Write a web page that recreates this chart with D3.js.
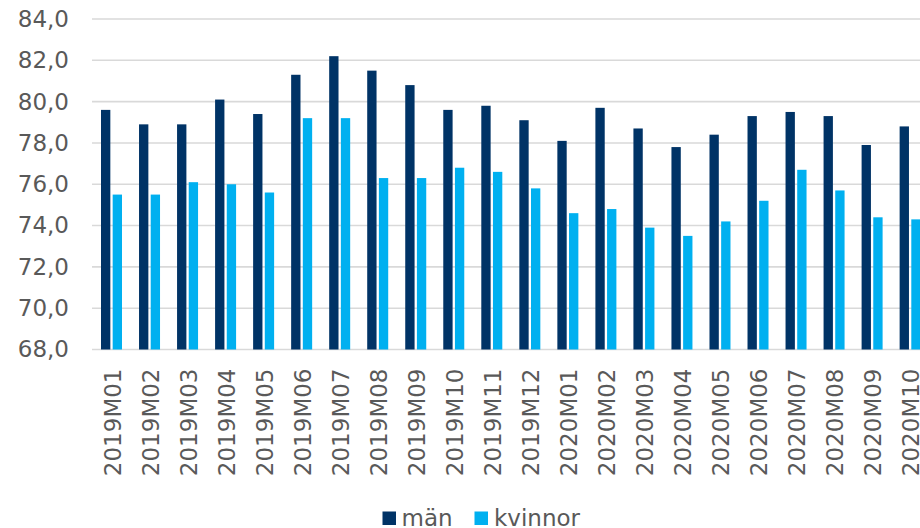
<!DOCTYPE html>
<html>
<head>
<meta charset="utf-8">
<script src="https://cdn.jsdelivr.net/npm/d3@7"></script>
<style>
  html, body { margin: 0; padding: 0; background: #ffffff; }
  svg { display: block; font-family: "DejaVu Sans", Verdana, sans-serif; }
</style>
</head>
<body>
<svg id="chart" width="920" height="528"></svg>
<script>
const categories = ["2019M01","2019M02","2019M03","2019M04","2019M05","2019M06","2019M07","2019M08","2019M09","2019M10","2019M11","2019M12",
                    "2020M01","2020M02","2020M03","2020M04","2020M05","2020M06","2020M07","2020M08","2020M09","2020M10"];
const man     = [79.6,78.9,78.9,80.1,79.4,81.3,82.2,81.5,80.8,79.6,79.8,79.1,78.1,79.7,78.7,77.8,78.4,79.3,79.5,79.3,77.9,78.8];
const kvinnor = [75.5,75.5,76.1,76.0,75.6,79.2,79.2,76.3,76.3,76.8,76.6,75.8,74.6,74.8,73.9,73.5,74.2,75.2,76.7,75.7,74.4,74.3];
const seriesNames = ["män","kvinnor"];
const seriesColors = ["#003366","#00b0f0"];
const yTicks = [68,70,72,74,76,78,80,82,84];

const svg = d3.select("#chart");
const W = 920;
const plotLeft = 92, plotTop = 19, plotBottom = 349.5;
const step = 38.03;

const x0 = d3.scaleBand().domain(categories).range([plotLeft, plotLeft + step * categories.length]).padding(0);
const x1 = d3.scaleBand().domain(seriesNames).range([9, 30]).paddingInner(0.2).paddingOuter(0);
const y = d3.scaleLinear().domain([68, 84]).range([plotBottom, plotTop]);

const textColor = "#595959";

// gridlines
svg.append("g").selectAll("line").data(yTicks).join("line")
  .attr("x1", plotLeft).attr("x2", W)
  .attr("y1", d => y(d)).attr("y2", d => y(d))
  .attr("stroke", "#d9d9d9").attr("stroke-width", 1.6);

// y axis labels
const fmt = d => d3.format(".1f")(d).replace(".", ",");
const yAxis = d3.axisLeft(y).tickValues(yTicks).tickFormat(fmt).tickSize(0).tickPadding(0);
const gy = svg.append("g").attr("transform", "translate(69,0)").call(yAxis);
gy.select(".domain").remove();
gy.selectAll("text").attr("fill", textColor).style("font-size", "23px")
  .style("font-family", "'DejaVu Sans', Verdana, sans-serif");

// bars
const series = [man, kvinnor];
series.forEach((vals, si) => {
  svg.append("g").selectAll("rect").data(vals).join("rect")
    .attr("x", (d, i) => x0(categories[i]) + x1(seriesNames[si]))
    .attr("width", x1.bandwidth())
    .attr("y", d => y(d))
    .attr("height", d => y(68) - y(d))
    .attr("fill", seriesColors[si]);
});

// x labels
const xAxis = d3.axisBottom(x0).tickSize(0).tickPadding(0);
const gx = svg.append("g").attr("transform", `translate(0,${plotBottom})`).call(xAxis);
gx.select(".domain").remove();
gx.selectAll("text")
  .attr("fill", textColor).style("font-size", "23px")
  .style("font-family", "'DejaVu Sans', Verdana, sans-serif")
  .attr("text-anchor", "end")
  .attr("transform", "translate(1.5,19) rotate(-90)")
  .attr("x", 0).attr("y", 0).attr("dy", "0.36em");

// legend
const legendItems = [
  {name: seriesNames[0], color: seriesColors[0], sx: 382.5, tx: 401.5},
  {name: seriesNames[1], color: seriesColors[1], sx: 474.5, tx: 494}
];
const lg = svg.append("g");
legendItems.forEach(it => {
  lg.append("rect").attr("x", it.sx).attr("y", 511.5).attr("width", 13.5).attr("height", 13.5).attr("fill", it.color);
  lg.append("text").attr("x", it.tx).attr("y", 526).attr("fill", textColor)
    .style("font-size", "23px").text(it.name);
});
</script>
</body>
</html>
